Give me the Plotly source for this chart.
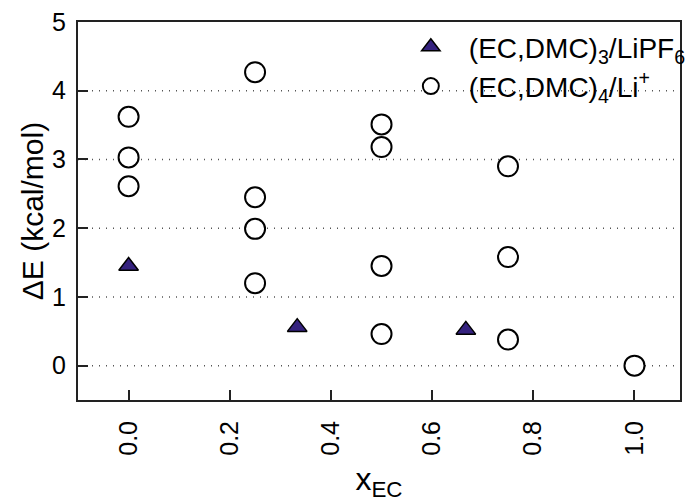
import plotly.graph_objects as go

# Energies of the clusters relative to the most stable one
x_lipf6 = [0.0, 1/3, 2/3]
de_lipf6 = [1.45, 0.56, 0.52]

x_li = [0.0, 0.0, 0.0,
        0.25, 0.25, 0.25, 0.25,
        0.5, 0.5, 0.5, 0.5,
        0.75, 0.75, 0.75,
        1.0]
de_li = [3.62, 3.03, 2.61,
         4.27, 2.45, 1.99, 1.20,
         3.51, 3.18, 1.45, 0.46,
         2.90, 1.58, 0.38,
         0.0]

x_ticks = [0.0, 0.2, 0.4, 0.6, 0.8, 1.0]
x_ticktext = ["0.0", "0.2", "0.4", "0.6", "0.8", "1.0"]
y_ticks = [0, 1, 2, 3, 4, 5]

FONT = "Arial, Liberation Sans, sans-serif"

fig = go.Figure()
fig.add_trace(go.Scatter(
    x=x_lipf6, y=de_lipf6, mode="markers",
    name="(EC,DMC)<sub>3</sub>/LiPF<sub>6</sub>",
    marker=dict(symbol="triangle-up", size=17, color="#35227f",
                line=dict(color="black", width=1.5)),
))
fig.add_trace(go.Scatter(
    x=x_li, y=de_li, mode="markers",
    name="(EC,DMC)<sub>4</sub>/Li<sup>+</sup>",
    marker=dict(symbol="circle", size=20, color="white",
                line=dict(color="black", width=2)),
))

# dotted horizontal reference lines
for yv in y_ticks[:-1]:
    fig.add_shape(type="line", xref="paper", x0=0, x1=1, yref="y", y0=yv, y1=yv,
                  line=dict(color="#555555", width=1.5, dash="1px,6px"), layer="below")

# y-axis title placed just left of the tick labels
fig.add_annotation(text="ΔE (kcal/mol)", xref="paper", yref="paper",
                   x=-0.076, y=0.5, xanchor="center", yanchor="middle",
                   textangle=-90, showarrow=False, font=dict(size=30))

fig.update_layout(
    width=685, height=502,
    margin=dict(l=78, r=5, t=22, b=102, autoexpand=False),
    paper_bgcolor="white", plot_bgcolor="white",
    font=dict(family=FONT, color="black", size=24),
    showlegend=True,
    legend=dict(x=0.523, y=1.0, xanchor="left", yanchor="top",
                bgcolor="rgba(0,0,0,0)", borderwidth=0,
                font=dict(size=28, family=FONT), itemwidth=66,
                tracegroupgap=0),
)
fig.update_xaxes(
    range=[-0.1, 1.09], tickvals=x_ticks, ticktext=x_ticktext, tickangle=-90,
    ticks="inside", ticklen=10, tickwidth=2, tickcolor="#222222",
    showline=True, linecolor="#222222", linewidth=2, mirror=True,
    showgrid=False, zeroline=False, ticklabelstandoff=9,
    tickfont=dict(size=25), automargin=False,
    title=dict(text="x<sub>EC</sub>", font=dict(size=32), standoff=16),
)
fig.update_yaxes(
    range=[-0.5, 5], tickvals=y_ticks,
    ticks="inside", ticklen=10, tickwidth=2, tickcolor="#222222",
    showline=True, linecolor="#222222", linewidth=2, mirror=True,
    showgrid=False, zeroline=False, ticklabelstandoff=5,
    tickfont=dict(size=25), automargin=False,
)

fig.write_html("out.html")
